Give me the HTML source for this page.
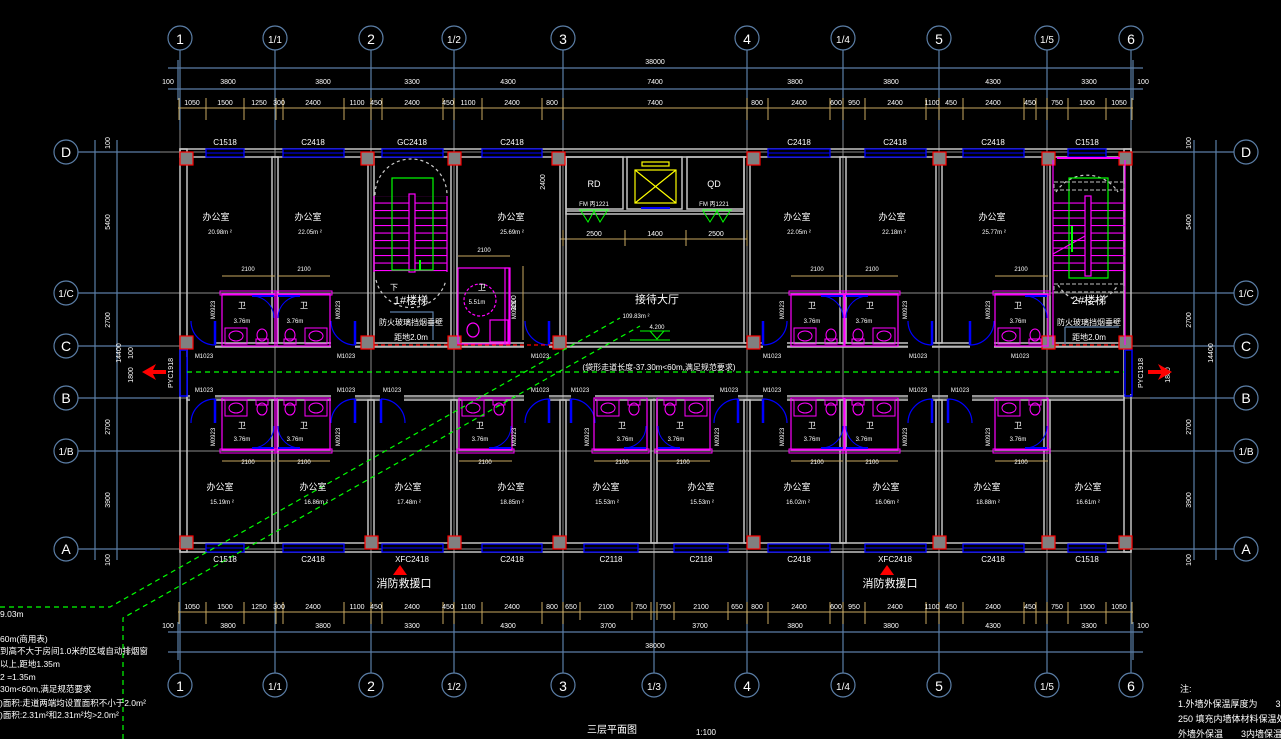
<!DOCTYPE html>
<html><head><meta charset="utf-8"><style>
html,body{margin:0;padding:0;background:#000;}
svg{display:block;}
text{font-family:"Liberation Sans","Noto Sans CJK SC",sans-serif;fill:#fff;}
</style></head><body>
<svg width="1281" height="739" viewBox="0 0 1281 739" xmlns="http://www.w3.org/2000/svg">
<defs>
<pattern id="tread" width="10" height="7.5" patternUnits="userSpaceOnUse"><line x1="0" y1="0.5" x2="10" y2="0.5" stroke="#ff00ff" stroke-width="1.2"/></pattern>
<g id="col"><rect width="13" height="13" fill="#808080" stroke="#ff0000" stroke-width="1.2"/></g>
<g id="wt">
 <rect x="0" y="0" width="53" height="52" fill="none" stroke="#ff00ff" stroke-width="1.2"/>
 <rect x="-2" y="-3" width="57" height="4" fill="none" stroke="#ff00ff" stroke-width="1"/>
 <rect x="3" y="34" width="22" height="16" fill="none" stroke="#ff00ff"/>
 <ellipse cx="14" cy="42" rx="7" ry="5" fill="none" stroke="#ff00ff"/>
 <ellipse cx="40" cy="41" rx="5" ry="6" fill="none" stroke="#ff00ff"/>
 <rect x="34" y="45" width="12" height="5" fill="none" stroke="#ff00ff"/>
 <path d="M30 2 A22 22 0 0 1 52 24" fill="none" stroke="#0000ff"/>
 <line x1="30" y1="2" x2="52" y2="2" stroke="#0000ff" stroke-width="2"/>
</g>
<g id="door"><path d="M0 0 L0 24 M0 0 A24 24 0 0 1 24 24" fill="none" stroke="#0000ff" stroke-width="1.2"/><line x1="0" y1="0" x2="0" y2="24" stroke="#0000ff" stroke-width="2.5"/></g>
</defs>

<g stroke="#8a8a8a" stroke-width="1">
 <line x1="160" y1="152" x2="1150" y2="152"/><line x1="160" y1="293" x2="1150" y2="293"/>
 <line x1="160" y1="346" x2="1150" y2="346"/><line x1="160" y1="398" x2="1150" y2="398"/>
 <line x1="160" y1="451" x2="1150" y2="451"/><line x1="160" y1="549" x2="1150" y2="549"/>
 <line x1="180" y1="130" x2="180" y2="570"/><line x1="275" y1="130" x2="275" y2="570"/>
 <line x1="371" y1="130" x2="371" y2="570"/><line x1="454" y1="130" x2="454" y2="570"/>
 <line x1="563" y1="130" x2="563" y2="570"/><line x1="654" y1="398" x2="654" y2="570"/>
 <line x1="747" y1="130" x2="747" y2="570"/><line x1="843" y1="130" x2="843" y2="570"/>
 <line x1="939" y1="130" x2="939" y2="570"/><line x1="1047" y1="130" x2="1047" y2="570"/>
 <line x1="1131" y1="130" x2="1131" y2="570"/>
</g>

<g stroke="#5b7ea6" stroke-width="1.2" fill="none">
 <line x1="180" y1="50" x2="180" y2="130"/><line x1="275" y1="50" x2="275" y2="130"/><line x1="371" y1="50" x2="371" y2="130"/><line x1="454" y1="50" x2="454" y2="130"/><line x1="563" y1="50" x2="563" y2="130"/><line x1="747" y1="50" x2="747" y2="130"/><line x1="843" y1="50" x2="843" y2="130"/><line x1="939" y1="50" x2="939" y2="130"/><line x1="1047" y1="50" x2="1047" y2="130"/><line x1="1131" y1="50" x2="1131" y2="130"/>
 <line x1="180" y1="570" x2="180" y2="673"/><line x1="275" y1="570" x2="275" y2="673"/><line x1="371" y1="570" x2="371" y2="673"/><line x1="454" y1="570" x2="454" y2="673"/><line x1="563" y1="570" x2="563" y2="673"/><line x1="654" y1="570" x2="654" y2="673"/><line x1="747" y1="570" x2="747" y2="673"/><line x1="843" y1="570" x2="843" y2="673"/><line x1="939" y1="570" x2="939" y2="673"/><line x1="1047" y1="570" x2="1047" y2="673"/><line x1="1131" y1="570" x2="1131" y2="673"/>
 <line x1="78" y1="152" x2="160" y2="152"/><line x1="78" y1="293" x2="160" y2="293"/><line x1="78" y1="346" x2="160" y2="346"/><line x1="78" y1="398" x2="160" y2="398"/><line x1="78" y1="451" x2="160" y2="451"/><line x1="78" y1="549" x2="160" y2="549"/>
 <line x1="1150" y1="152" x2="1234" y2="152"/><line x1="1150" y1="293" x2="1234" y2="293"/><line x1="1150" y1="346" x2="1234" y2="346"/><line x1="1150" y1="398" x2="1234" y2="398"/><line x1="1150" y1="451" x2="1234" y2="451"/><line x1="1150" y1="549" x2="1234" y2="549"/>
 <line x1="168" y1="68" x2="1143" y2="68"/><line x1="168" y1="89" x2="1143" y2="89"/>
 <line x1="168" y1="632" x2="1143" y2="632"/><line x1="168" y1="652" x2="1143" y2="652"/>
 <line x1="178" y1="60" x2="178" y2="100"/><line x1="1133" y1="60" x2="1133" y2="100"/>
 <line x1="178" y1="622" x2="178" y2="660"/><line x1="1133" y1="622" x2="1133" y2="660"/>
 <line x1="95" y1="140" x2="95" y2="560"/><line x1="117" y1="140" x2="117" y2="560"/>
 <line x1="1194" y1="140" x2="1194" y2="560"/><line x1="1216" y1="140" x2="1216" y2="560"/>
 <circle cx="180" cy="38" r="12"/><circle cx="275" cy="38" r="12"/><circle cx="371" cy="38" r="12"/><circle cx="454" cy="38" r="12"/><circle cx="563" cy="38" r="12"/><circle cx="747" cy="38" r="12"/><circle cx="843" cy="38" r="12"/><circle cx="939" cy="38" r="12"/><circle cx="1047" cy="38" r="12"/><circle cx="1131" cy="38" r="12"/>
 <circle cx="180" cy="685" r="12"/><circle cx="275" cy="685" r="12"/><circle cx="371" cy="685" r="12"/><circle cx="454" cy="685" r="12"/><circle cx="563" cy="685" r="12"/><circle cx="654" cy="685" r="12"/><circle cx="747" cy="685" r="12"/><circle cx="843" cy="685" r="12"/><circle cx="939" cy="685" r="12"/><circle cx="1047" cy="685" r="12"/><circle cx="1131" cy="685" r="12"/>
 <circle cx="66" cy="152" r="12"/><circle cx="66" cy="293" r="12"/><circle cx="66" cy="346" r="12"/><circle cx="66" cy="398" r="12"/><circle cx="66" cy="451" r="12"/><circle cx="66" cy="549" r="12"/>
 <circle cx="1246" cy="152" r="12"/><circle cx="1246" cy="293" r="12"/><circle cx="1246" cy="346" r="12"/><circle cx="1246" cy="398" r="12"/><circle cx="1246" cy="451" r="12"/><circle cx="1246" cy="549" r="12"/>
</g>
<g font-size="14" text-anchor="middle">
 <text x="180" y="44">1</text><text x="275" y="43" font-size="10">1/1</text><text x="371" y="44">2</text><text x="454" y="43" font-size="10">1/2</text><text x="563" y="44">3</text><text x="747" y="44">4</text><text x="843" y="43" font-size="10">1/4</text><text x="939" y="44">5</text><text x="1047" y="43" font-size="10">1/5</text><text x="1131" y="44">6</text>
 <text x="180" y="691">1</text><text x="275" y="690" font-size="10">1/1</text><text x="371" y="691">2</text><text x="454" y="690" font-size="10">1/2</text><text x="563" y="691">3</text><text x="654" y="690" font-size="10">1/3</text><text x="747" y="691">4</text><text x="843" y="690" font-size="10">1/4</text><text x="939" y="691">5</text><text x="1047" y="690" font-size="10">1/5</text><text x="1131" y="691">6</text>
 <text x="66" y="157">D</text><text x="66" y="297" font-size="10">1/C</text><text x="66" y="351">C</text><text x="66" y="403">B</text><text x="66" y="455" font-size="10">1/B</text><text x="66" y="554">A</text>
 <text x="1246" y="157">D</text><text x="1246" y="297" font-size="10">1/C</text><text x="1246" y="351">C</text><text x="1246" y="403">B</text><text x="1246" y="455" font-size="10">1/B</text><text x="1246" y="554">A</text>
</g>

<g font-size="7" text-anchor="middle">
 <text x="655" y="64">38000</text><text x="655" y="648">38000</text>
 <text x="168" y="84">100</text><text x="1143" y="84">100</text><text x="168" y="628">100</text><text x="1143" y="628">100</text>
 <text x="228" y="84">3800</text><text x="323" y="84">3800</text><text x="412" y="84">3300</text><text x="508" y="84">4300</text><text x="655" y="84">7400</text><text x="795" y="84">3800</text><text x="891" y="84">3800</text><text x="993" y="84">4300</text><text x="1089" y="84">3300</text>
 <text x="228" y="628">3800</text><text x="323" y="628">3800</text><text x="412" y="628">3300</text><text x="508" y="628">4300</text><text x="608" y="628">3700</text><text x="700" y="628">3700</text><text x="795" y="628">3800</text><text x="891" y="628">3800</text><text x="993" y="628">4300</text><text x="1089" y="628">3300</text>
</g>
<g stroke="#c8a860" stroke-width="1">
 <line x1="178" y1="108" x2="1133" y2="108"/><line x1="178" y1="612" x2="1133" y2="612"/>
 <line x1="560" y1="239" x2="747" y2="239"/>
</g>
<g stroke="#c8a860" stroke-width="1" id="tt">
 <line x1="179" y1="98" x2="179" y2="120"/><line x1="206" y1="98" x2="206" y2="120"/><line x1="244" y1="98" x2="244" y2="120"/><line x1="276" y1="98" x2="276" y2="120"/><line x1="283" y1="98" x2="283" y2="120"/><line x1="344" y1="98" x2="344" y2="120"/><line x1="371" y1="98" x2="371" y2="120"/><line x1="382" y1="98" x2="382" y2="120"/><line x1="443" y1="98" x2="443" y2="120"/><line x1="454" y1="98" x2="454" y2="120"/><line x1="482" y1="98" x2="482" y2="120"/><line x1="542" y1="98" x2="542" y2="120"/><line x1="563" y1="98" x2="563" y2="120"/><line x1="747" y1="98" x2="747" y2="120"/><line x1="768" y1="98" x2="768" y2="120"/><line x1="830" y1="98" x2="830" y2="120"/><line x1="843" y1="98" x2="843" y2="120"/><line x1="865" y1="98" x2="865" y2="120"/><line x1="926" y1="98" x2="926" y2="120"/><line x1="939" y1="98" x2="939" y2="120"/><line x1="963" y1="98" x2="963" y2="120"/><line x1="1024" y1="98" x2="1024" y2="120"/><line x1="1036" y1="98" x2="1036" y2="120"/><line x1="1047" y1="98" x2="1047" y2="120"/><line x1="1068" y1="98" x2="1068" y2="120"/><line x1="1106" y1="98" x2="1106" y2="120"/><line x1="1132" y1="98" x2="1132" y2="120"/>
</g>
<use href="#tt" transform="translate(0,504)"/>
<g stroke="#c8a860" stroke-width="1">
 <line x1="580" y1="602" x2="580" y2="620"/><line x1="632" y1="602" x2="632" y2="620"/><line x1="651" y1="602" x2="651" y2="620"/><line x1="657" y1="602" x2="657" y2="620"/><line x1="674" y1="602" x2="674" y2="620"/><line x1="728" y1="602" x2="728" y2="620"/>
 <line x1="563" y1="230" x2="563" y2="246"/><line x1="625" y1="230" x2="625" y2="246"/><line x1="686" y1="230" x2="686" y2="246"/><line x1="747" y1="230" x2="747" y2="246"/>
</g>
<g font-size="7" text-anchor="middle">
 <text x="192" y="105">1050</text><text x="225" y="105">1500</text><text x="259" y="105">1250</text><text x="279" y="105">300</text><text x="313" y="105">2400</text><text x="357" y="105">1100</text><text x="376" y="105">450</text><text x="412" y="105">2400</text><text x="448" y="105">450</text><text x="468" y="105">1100</text><text x="512" y="105">2400</text><text x="552" y="105">800</text><text x="655" y="105">7400</text><text x="757" y="105">800</text><text x="799" y="105">2400</text><text x="836" y="105">600</text><text x="854" y="105">950</text><text x="895" y="105">2400</text><text x="932" y="105">1100</text><text x="951" y="105">450</text><text x="993" y="105">2400</text><text x="1030" y="105">450</text><text x="1057" y="105">750</text><text x="1087" y="105">1500</text><text x="1119" y="105">1050</text>
 <text x="192" y="609">1050</text><text x="225" y="609">1500</text><text x="259" y="609">1250</text><text x="279" y="609">300</text><text x="313" y="609">2400</text><text x="357" y="609">1100</text><text x="376" y="609">450</text><text x="412" y="609">2400</text><text x="448" y="609">450</text><text x="468" y="609">1100</text><text x="512" y="609">2400</text><text x="552" y="609">800</text><text x="571" y="609">650</text><text x="606" y="609">2100</text><text x="641" y="609">750</text><text x="665" y="609">750</text><text x="701" y="609">2100</text><text x="737" y="609">650</text><text x="757" y="609">800</text><text x="799" y="609">2400</text><text x="836" y="609">600</text><text x="854" y="609">950</text><text x="895" y="609">2400</text><text x="932" y="609">1100</text><text x="951" y="609">450</text><text x="993" y="609">2400</text><text x="1030" y="609">450</text><text x="1057" y="609">750</text><text x="1087" y="609">1500</text><text x="1119" y="609">1050</text>
 <text x="594" y="236">2500</text><text x="655" y="236">1400</text><text x="716" y="236">2500</text>
</g>
<g font-size="7" text-anchor="middle">
 <text transform="translate(110,222) rotate(-90)">5400</text><text transform="translate(110,320) rotate(-90)">2700</text><text transform="translate(110,427) rotate(-90)">2700</text><text transform="translate(110,500) rotate(-90)">3900</text><text transform="translate(121,353) rotate(-90)">14400</text>
 <text transform="translate(110,143) rotate(-90)">100</text><text transform="translate(110,560) rotate(-90)">100</text>
 <text transform="translate(1191,222) rotate(-90)">5400</text><text transform="translate(1191,320) rotate(-90)">2700</text><text transform="translate(1191,427) rotate(-90)">2700</text><text transform="translate(1191,500) rotate(-90)">3900</text><text transform="translate(1213,353) rotate(-90)">14400</text>
 <text transform="translate(1191,143) rotate(-90)">100</text><text transform="translate(1191,560) rotate(-90)">100</text>
 <text transform="translate(133,353) rotate(-90)">100</text><text transform="translate(133,375) rotate(-90)">1800</text><text transform="translate(1170,375) rotate(-90)">1800</text>
 <text transform="translate(545,182) rotate(-90)">2400</text><text transform="translate(516,303) rotate(-90)">3000</text>
</g>

<g fill="none" stroke="#c4c4c4" stroke-width="1.5">
 <rect x="180" y="149" width="951" height="8"/>
 <rect x="180" y="543" width="951" height="9"/>
 <rect x="180" y="149" width="7" height="403"/>
 <rect x="1124" y="149" width="7" height="403"/>
 <rect x="187" y="343" width="937" height="4"/>
 <rect x="187" y="396" width="937" height="4"/>
 <rect x="272" y="157" width="6" height="186"/><rect x="368" y="157" width="6" height="186"/><rect x="451" y="157" width="6" height="186"/><rect x="560" y="157" width="6" height="186"/><rect x="744" y="157" width="6" height="186"/><rect x="840" y="157" width="6" height="186"/><rect x="936" y="157" width="6" height="186"/><rect x="1044" y="157" width="6" height="186"/>
 <rect x="272" y="400" width="6" height="143"/><rect x="368" y="400" width="6" height="143"/><rect x="451" y="400" width="6" height="143"/><rect x="560" y="400" width="6" height="143"/><rect x="651" y="400" width="6" height="143"/><rect x="744" y="400" width="6" height="143"/><rect x="840" y="400" width="6" height="143"/><rect x="936" y="400" width="6" height="143"/><rect x="1044" y="400" width="6" height="143"/>
 <rect x="566" y="157" width="57" height="52"/><rect x="627" y="157" width="55" height="52"/><rect x="687" y="157" width="57" height="52"/>
 <rect x="566" y="211" width="178" height="3"/>
</g>
<g fill="#000">
 <rect x="190" y="342" width="25" height="6"/><rect x="331" y="342" width="24" height="6"/><rect x="524" y="342" width="25" height="6"/><rect x="763" y="342" width="24" height="6"/><rect x="908" y="342" width="24" height="6"/><rect x="970" y="342" width="24" height="6"/>
 <rect x="190" y="395" width="25" height="6"/><rect x="331" y="395" width="24" height="6"/><rect x="380" y="395" width="24" height="6"/><rect x="524" y="395" width="25" height="6"/><rect x="571" y="395" width="24" height="6"/><rect x="714" y="395" width="24" height="6"/><rect x="763" y="395" width="24" height="6"/><rect x="908" y="395" width="24" height="6"/><rect x="948" y="395" width="24" height="6"/>
 <rect x="181" y="357" width="6" height="38"/><rect x="1124" y="350" width="8" height="44"/>
</g>
<use href="#door" transform="translate(215,345) scale(-1,-1)"/>
<use href="#door" transform="translate(355,345) scale(1,-1) scale(-1,1)"/>
<use href="#door" transform="translate(549,345) scale(-1,-1)"/>
<use href="#door" transform="translate(763,345) scale(1,-1)"/>
<use href="#door" transform="translate(932,345) scale(-1,-1)"/>
<use href="#door" transform="translate(970,345) scale(1,-1)"/>
<use href="#door" transform="translate(215,399) scale(-1,1)"/>
<use href="#door" transform="translate(355,399) scale(-1,1)"/>
<use href="#door" transform="translate(381,399)"/>
<use href="#door" transform="translate(549,399) scale(-1,1)"/>
<use href="#door" transform="translate(571,399)"/>
<use href="#door" transform="translate(738,399) scale(-1,1)"/>
<use href="#door" transform="translate(763,399)"/>
<use href="#door" transform="translate(932,399) scale(-1,1)"/>
<use href="#door" transform="translate(948,399)"/>
<rect x="180" y="350" width="7" height="46" fill="none" stroke="#0000ff" stroke-width="1.5"/>
<rect x="1125" y="350" width="7" height="46" fill="none" stroke="#0000ff" stroke-width="1.5"/>

<g fill="#000" stroke="#0000ff" stroke-width="1.3">
 <rect x="206" y="149" width="38" height="8"/><rect x="283" y="149" width="61" height="8"/><rect x="382" y="149" width="61" height="8"/><rect x="482" y="149" width="60" height="8"/><rect x="768" y="149" width="62" height="8"/><rect x="865" y="149" width="61" height="8"/><rect x="963" y="149" width="61" height="8"/><rect x="1068" y="149" width="38" height="8"/>
 <rect x="206" y="544" width="38" height="8"/><rect x="283" y="544" width="61" height="8"/><rect x="382" y="544" width="61" height="8"/><rect x="482" y="544" width="60" height="8"/><rect x="584" y="544" width="54" height="8"/><rect x="674" y="544" width="54" height="8"/><rect x="768" y="544" width="62" height="8"/><rect x="865" y="544" width="61" height="8"/><rect x="963" y="544" width="61" height="8"/><rect x="1068" y="544" width="38" height="8"/>
</g>
<g stroke="#0000ff" stroke-width="1">
 <line x1="206" y1="153" x2="1106" y2="153" stroke-dasharray="38 39 61 38 61 39 60 226 62 35 61 37 61 44 38 999"/>
 <line x1="206" y1="548" x2="1106" y2="548" stroke-dasharray="38 39 61 38 61 39 60 42 54 36 54 40 62 35 61 37 61 44 38 999"/>
</g>

<use href="#col" x="180" y="152"/><use href="#col" x="361" y="152"/><use href="#col" x="448" y="152"/><use href="#col" x="552" y="152"/><use href="#col" x="747" y="152"/><use href="#col" x="933" y="152"/><use href="#col" x="1042" y="152"/><use href="#col" x="1119" y="152"/>
<use href="#col" x="180" y="336"/><use href="#col" x="361" y="336"/><use href="#col" x="448" y="336"/><use href="#col" x="553" y="336"/><use href="#col" x="747" y="336"/><use href="#col" x="1042" y="336"/><use href="#col" x="1119" y="336"/>
<use href="#col" x="180" y="536"/><use href="#col" x="365" y="536"/><use href="#col" x="448" y="536"/><use href="#col" x="553" y="536"/><use href="#col" x="747" y="536"/><use href="#col" x="933" y="536"/><use href="#col" x="1042" y="536"/><use href="#col" x="1119" y="536"/>

<use href="#wt" transform="translate(222,294)"/>
<use href="#wt" transform="translate(330,294) scale(-1,1)"/>
<use href="#wt" transform="translate(791,294)"/>
<use href="#wt" transform="translate(898,294) scale(-1,1)"/>
<use href="#wt" transform="translate(995,294)"/>
<use href="#wt" transform="translate(222,450) scale(1,-1)"/>
<use href="#wt" transform="translate(330,450) scale(-1,-1)"/>
<use href="#wt" transform="translate(459,450) scale(1,-1)"/>
<use href="#wt" transform="translate(594,450) scale(1,-1)"/>
<use href="#wt" transform="translate(710,450) scale(-1,-1)"/>
<use href="#wt" transform="translate(791,450) scale(1,-1)"/>
<use href="#wt" transform="translate(898,450) scale(-1,-1)"/>
<use href="#wt" transform="translate(995,450) scale(1,-1)"/>
<g fill="none" stroke="#ff00ff" stroke-width="1.2">
 <rect x="458" y="268" width="52" height="76"/><rect x="505" y="268" width="4" height="76"/>
 <circle cx="480" cy="300" r="16" stroke-dasharray="3 2"/>
 <rect x="490" y="320" width="18" height="22"/><ellipse cx="473" cy="330" rx="6" ry="7"/>
</g>
<g stroke="#c8a860"><line x1="458" y1="256" x2="510" y2="256"/><line x1="523" y1="266" x2="523" y2="340"/>
 <line x1="222" y1="276" x2="275" y2="276"/><line x1="278" y1="276" x2="330" y2="276"/><line x1="791" y1="276" x2="843" y2="276"/><line x1="846" y1="276" x2="898" y2="276"/><line x1="995" y1="276" x2="1048" y2="276"/>
 <line x1="222" y1="461" x2="275" y2="461"/><line x1="278" y1="461" x2="330" y2="461"/><line x1="459" y1="461" x2="512" y2="461"/><line x1="594" y1="461" x2="650" y2="461"/><line x1="657" y1="461" x2="710" y2="461"/><line x1="791" y1="461" x2="843" y2="461"/><line x1="846" y1="461" x2="898" y2="461"/><line x1="995" y1="461" x2="1048" y2="461"/>
</g>

<g fill="none" stroke-width="1.2">
 <path d="M375 195 A36 36 0 0 1 447 195" stroke="#cccccc" stroke-dasharray="3 3"/>
 <path d="M376 280 A36 36 0 0 0 446 280" stroke="#cccccc" stroke-dasharray="3 3"/>
 <rect x="374" y="196" width="73" height="76" fill="url(#tread)" stroke="none"/>
 <line x1="374" y1="196" x2="374" y2="272" stroke="#ff00ff"/><line x1="447" y1="196" x2="447" y2="272" stroke="#ff00ff"/>
 <rect x="409" y="194" width="6" height="78" stroke="#ff00ff" fill="#000"/>
 <rect x="392" y="178" width="41" height="92" stroke="#00ff00"/>
 <path d="M1056 192 A37 37 0 0 1 1118 192" stroke="#cccccc" stroke-dasharray="3 3"/>
 <path d="M1058 285 A35 35 0 0 0 1118 285" stroke="#cccccc" stroke-dasharray="3 3"/>
 <rect x="1053" y="198" width="72" height="78" fill="url(#tread)" stroke="none"/>
 <line x1="1053" y1="160" x2="1053" y2="345" stroke="#ff00ff"/><line x1="1125" y1="160" x2="1125" y2="345" stroke="#ff00ff"/>
 <line x1="1057" y1="158" x2="1120" y2="158" stroke="#ff00ff" stroke-width="2"/>
 <rect x="1085" y="196" width="6" height="80" stroke="#ff00ff" fill="#000"/>
 <rect x="1069" y="178" width="39" height="100" stroke="#00ff00"/>
 <rect x="1054" y="182" width="70" height="8" stroke="#999" stroke-dasharray="4 2"/>
 <rect x="1054" y="284" width="70" height="8" stroke="#999" stroke-dasharray="4 2"/>
 <line x1="1053" y1="254" x2="1085" y2="236" stroke="#ff00ff"/>
 <polyline points="390,312 433,312 433,340" stroke="#5b7ea6"/>
 <polyline points="1065,327 1119,327" stroke="#5b7ea6"/><line x1="1065" y1="327" x2="1065" y2="345" stroke="#5b7ea6"/>
 <line x1="457" y1="345" x2="553" y2="345" stroke="#ff0000" stroke-dasharray="4 3"/>
 <line x1="374" y1="345" x2="448" y2="345" stroke="#ff0000" stroke-dasharray="4 3"/>
 <line x1="1055" y1="345" x2="1119" y2="345" stroke="#ff0000" stroke-dasharray="4 3"/>
</g>
<g fill="none" stroke="#ffff00" stroke-width="1.2">
 <rect x="635" y="170" width="41" height="33"/><line x1="635" y1="170" x2="676" y2="203"/><line x1="676" y1="170" x2="635" y2="203"/>
 <rect x="642" y="162" width="27" height="4"/>
</g>
<line x1="641" y1="208" x2="670" y2="208" stroke="#0000ff" stroke-width="2"/>
<g fill="none" stroke="#00ff00" stroke-width="1">
 <polyline points="579,210 609,210"/><polyline points="581,211 588,222 594,211 600,222 607,211"/>
 <polyline points="702,210 732,210"/><polyline points="703,211 710,222 717,211 723,222 730,211"/>
 <polyline points="640,331 670,331"/><polyline points="650,331 657,339 664,331"/><line x1="630" y1="340" x2="670" y2="340"/>
 <line x1="187" y1="372" x2="1124" y2="372" stroke-dasharray="5 4" stroke-width="1.3"/>
 <polyline points="0,607 110,607 620,318" stroke-dasharray="5 4" stroke-width="1.2"/>
 <polyline points="123,739 123,618 640,326" stroke-dasharray="5 4" stroke-width="1.2"/>
 <line x1="1072" y1="226" x2="1072" y2="252" stroke-width="2"/><line x1="420" y1="260" x2="420" y2="270" stroke-width="2"/>
</g>
<g fill="#ff0000">
 <polygon points="142,372 156,364 152,372 156,380"/><rect x="152" y="370" width="14" height="4"/>
 <polygon points="1172,372 1158,364 1162,372 1158,380"/><rect x="1148" y="370" width="14" height="4"/>
 <polygon points="393,575 400,565 407,575"/><polygon points="880,575 887,565 894,575"/>
</g>

<g font-size="9" text-anchor="middle">
 <text x="225" y="145" font-size="8">C1518</text><text x="313" y="145" font-size="8">C2418</text><text x="412" y="145" font-size="8">GC2418</text><text x="512" y="145" font-size="8">C2418</text><text x="799" y="145" font-size="8">C2418</text><text x="895" y="145" font-size="8">C2418</text><text x="993" y="145" font-size="8">C2418</text><text x="1087" y="145" font-size="8">C1518</text>
 <text x="225" y="562" font-size="8">C1518</text><text x="313" y="562" font-size="8">C2418</text><text x="412" y="562" font-size="8">XFC2418</text><text x="512" y="562" font-size="8">C2418</text><text x="611" y="562" font-size="8">C2118</text><text x="701" y="562" font-size="8">C2118</text><text x="799" y="562" font-size="8">C2418</text><text x="895" y="562" font-size="8">XFC2418</text><text x="993" y="562" font-size="8">C2418</text><text x="1087" y="562" font-size="8">C1518</text>
 <text x="404" y="587" font-size="11">消防救援口</text><text x="890" y="587" font-size="11">消防救援口</text>
 <text x="216" y="220">办公室</text><text x="308" y="220">办公室</text><text x="511" y="220">办公室</text><text x="797" y="220">办公室</text><text x="892" y="220">办公室</text><text x="992" y="220">办公室</text>
 <text x="220" y="490">办公室</text><text x="313" y="490">办公室</text><text x="408" y="490">办公室</text><text x="511" y="490">办公室</text><text x="606" y="490">办公室</text><text x="701" y="490">办公室</text><text x="797" y="490">办公室</text><text x="886" y="490">办公室</text><text x="987" y="490">办公室</text><text x="1088" y="490">办公室</text>
 <text x="657" y="303" font-size="11">接待大厅</text>
 <text x="594" y="187">RD</text><text x="714" y="187">QD</text>
 <text x="411" y="304" font-size="11">1#楼梯</text><text x="1089" y="304" font-size="11">2#楼梯</text>
 <text x="411" y="325" font-size="8">防火玻璃挡烟垂壁</text><text x="1089" y="325" font-size="8">防火玻璃挡烟垂壁</text>
 <text x="411" y="340" font-size="8">距地2.0m</text><text x="1089" y="340" font-size="8">距地2.0m</text>
 <text x="659" y="370" font-size="8">(袋形走道长度-37.30m&lt;60m,满足规范要求)</text>
</g>
<g font-size="6" text-anchor="middle">
 <text x="220" y="234">20.98m ²</text><text x="310" y="234">22.05m ²</text><text x="512" y="234">25.69m ²</text><text x="799" y="234">22.05m ²</text><text x="894" y="234">22.18m ²</text><text x="994" y="234">25.77m ²</text>
 <text x="222" y="504">15.19m ²</text><text x="316" y="504">16.86m ²</text><text x="409" y="504">17.48m ²</text><text x="512" y="504">18.85m ²</text><text x="607" y="504">15.53m ²</text><text x="702" y="504">15.53m ²</text><text x="798" y="504">16.02m ²</text><text x="887" y="504">16.06m ²</text><text x="988" y="504">18.88m ²</text><text x="1088" y="504">16.61m ²</text>
 <text x="636" y="318">109.83m ²</text><text x="657" y="329">4.200</text>
 <text x="594" y="206">FM 丙1221</text><text x="714" y="206">FM 丙1221</text>
 <text x="248" y="271">2100</text><text x="304" y="271">2100</text><text x="484" y="252">2100</text><text x="817" y="271">2100</text><text x="872" y="271">2100</text><text x="1021" y="271">2100</text>
 <text x="248" y="464">2100</text><text x="304" y="464">2100</text><text x="485" y="464">2100</text><text x="622" y="464">2100</text><text x="683" y="464">2100</text><text x="817" y="464">2100</text><text x="872" y="464">2100</text><text x="1021" y="464">2100</text>
 <text x="242" y="323">3.76m</text><text x="295" y="323">3.76m</text><text x="812" y="323">3.76m</text><text x="864" y="323">3.76m</text><text x="1018" y="323">3.76m</text><text x="477" y="304">5.51m</text>
 <text x="242" y="441">3.76m</text><text x="295" y="441">3.76m</text><text x="480" y="441">3.76m</text><text x="625" y="441">3.76m</text><text x="676" y="441">3.76m</text><text x="812" y="441">3.76m</text><text x="864" y="441">3.76m</text><text x="1018" y="441">3.76m</text>
 <text x="204" y="358">M1023</text><text x="346" y="358">M1023</text><text x="540" y="358">M1023</text><text x="772" y="358">M1023</text><text x="918" y="358">M1023</text><text x="1020" y="358">M1023</text>
 <text x="204" y="392">M1023</text><text x="346" y="392">M1023</text><text x="392" y="392">M1023</text><text x="540" y="392">M1023</text><text x="580" y="392">M1023</text><text x="729" y="392">M1023</text><text x="772" y="392">M1023</text><text x="918" y="392">M1023</text><text x="960" y="392">M1023</text>
 <text transform="translate(173,373) rotate(-90)" font-size="7">PYC1918</text><text transform="translate(1143,373) rotate(-90)" font-size="7">PYC1918</text>
</g>
<g font-size="8" text-anchor="middle">
 <text x="242" y="308">卫</text><text x="304" y="308">卫</text><text x="812" y="308">卫</text><text x="870" y="308">卫</text><text x="1018" y="308">卫</text><text x="482" y="290">卫</text>
 <text x="242" y="428">卫</text><text x="304" y="428">卫</text><text x="480" y="428">卫</text><text x="622" y="428">卫</text><text x="680" y="428">卫</text><text x="812" y="428">卫</text><text x="870" y="428">卫</text><text x="1018" y="428">卫</text>
 <text x="394" y="290">下</text>
</g>
<g font-size="6" text-anchor="middle">
 <text transform="translate(215,310) rotate(-90)">M0923</text><text transform="translate(340,310) rotate(-90)">M0923</text><text transform="translate(516,310) rotate(-90)">M0923</text><text transform="translate(784,310) rotate(-90)">M0923</text><text transform="translate(907,310) rotate(-90)">M0923</text><text transform="translate(990,310) rotate(-90)">M0923</text>
 <text transform="translate(215,437) rotate(-90)">M0923</text><text transform="translate(340,437) rotate(-90)">M0923</text><text transform="translate(516,437) rotate(-90)">M0923</text><text transform="translate(589,437) rotate(-90)">M0923</text><text transform="translate(719,437) rotate(-90)">M0923</text><text transform="translate(784,437) rotate(-90)">M0923</text><text transform="translate(907,437) rotate(-90)">M0923</text><text transform="translate(990,437) rotate(-90)">M0923</text>
</g>

<g font-size="8.5">
 <text x="0" y="617">9.03m</text>
 <text x="0" y="642">60m(商用表)</text>
 <text x="0" y="654">到高不大于房间1.0米的区域自动排烟窗</text>
 <text x="0" y="667">以上,距地1.35m</text>
 <text x="0" y="680">2 =1.35m</text>
 <text x="0" y="692">30m&lt;60m,满足规范要求</text>
 <text x="0" y="706">)面积:走道两端均设置面积不小于2.0m²</text>
 <text x="0" y="718">)面积:2.31m²和2.31m²均&gt;2.0m²</text>
 <text x="1180" y="692" font-size="9">注:</text>
 <text x="1178" y="707" font-size="9">1.外墙外保温厚度为　　3</text>
 <text x="1178" y="722" font-size="9">250 填充内墙体材料保温处理均为</text>
 <text x="1178" y="737" font-size="9">外墙外保温　　3内墙保温为</text>
 <text x="612" y="733" font-size="10" text-anchor="middle">三层平面图</text>
 <text x="706" y="735" font-size="8" text-anchor="middle">1:100</text>
</g>
</svg>
</body></html>
